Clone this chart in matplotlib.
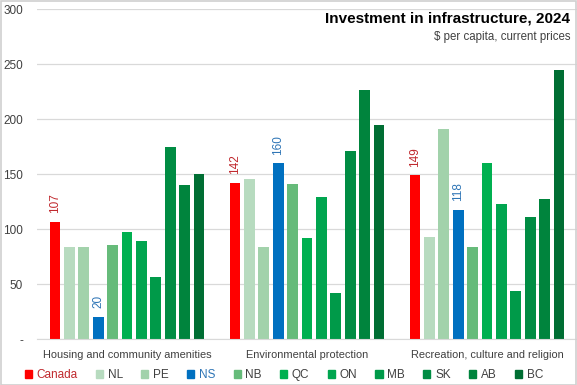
import numpy as np
import matplotlib
matplotlib.use("Agg")
import matplotlib.pyplot as plt
from matplotlib.patches import Rectangle

categories = ["Housing and community amenities", "Environmental protection",
              "Recreation, culture and religion"]
regions = ["Canada", "NL", "PE", "NS", "NB", "QC", "ON", "MB", "SK", "AB", "BC"]
colors = ["#FF0000", "#B7DBBF", "#A2D2AB", "#0070C0", "#66BB7A", "#00B050",
          "#00A54F", "#009A49", "#008C43", "#00843D", "#006E33"]
values = {
    "Canada": [107, 142, 149],
    "NL": [84, 146, 93],
    "PE": [84, 84, 191],
    "NS": [20, 160, 118],
    "NB": [86, 141, 84],
    "QC": [98, 92, 160],
    "ON": [89, 129, 123],
    "MB": [57, 42, 44],
    "SK": [175, 171, 111],
    "AB": [140, 227, 128],
    "BC": [150, 195, 245],
}
labelled = {"Canada": "#C0282D", "NS": "#2E75B6"}
yticks = [0, 50, 100, 150, 200, 250, 300]
ytick_labels = ["-", "50", "100", "150", "200", "250", "300"]

plt.rcParams['font.family'] = ['Liberation Sans', 'DejaVu Sans']

fig = plt.figure(figsize=(5.77, 3.85), dpi=100)
ax = fig.add_axes([37 / 577, 1 - 339.3 / 385, 1 - 37 / 577, 330 / 385])

x = np.arange(len(categories))
step = 0.08
width = 0.061
for i, r in enumerate(regions):
    xs = x + (i - 5) * step
    ax.bar(xs, values[r], width=width, color=colors[i], zorder=2, label=r)
    if r in labelled:
        for xx, v in zip(xs, values[r]):
            ax.text(xx, v + 8, str(v), rotation=90, ha="center", va="bottom",
                    fontsize=8.5, color=labelled[r])

ax.set_xlim(-0.5, 2.5)
ax.set_ylim(0, 300)
ax.set_yticks(yticks)
ax.set_yticklabels(ytick_labels, fontsize=8.5, color="#404040")
ax.set_xticks(x)
ax.set_xticklabels(categories, fontsize=7.9, color="#404040")
ax.tick_params(length=0, pad=8)
ax.tick_params(axis="y", pad=10)
ax.yaxis.grid(True, color="#D9D9D9", linewidth=0.9, zorder=0)
for s in ["top", "right", "left"]:
    ax.spines[s].set_visible(False)
ax.spines["bottom"].set_color("#D9D9D9")

fig.text(0.988, 0.952, "Investment in infrastructure, 2024", ha="right",
         va="center", fontsize=11, fontweight="bold")
fig.text(0.988, 0.905, "$ per capita, current prices", ha="right",
         va="center", fontsize=8.3, color="#404040")

handles = [Rectangle((0, 0), 1, 1, color=c) for c in colors]
leg = fig.legend(handles, regions, loc="center", bbox_to_anchor=(0.492, 0.025),
                 ncol=11, frameon=False, fontsize=8.5, handlelength=0.6,
                 handleheight=0.6, handletextpad=0.4, columnspacing=1.55,
                 borderaxespad=0)
for t, r in zip(leg.get_texts(), regions):
    t.set_color(labelled.get(r, "#404040"))

fig.patches.append(Rectangle((0.001, 0.001), 0.997, 0.997, transform=fig.transFigure,
                             fill=False, edgecolor="#D0D0D0", linewidth=1.2))

fig.savefig("out.png", dpi=100)
